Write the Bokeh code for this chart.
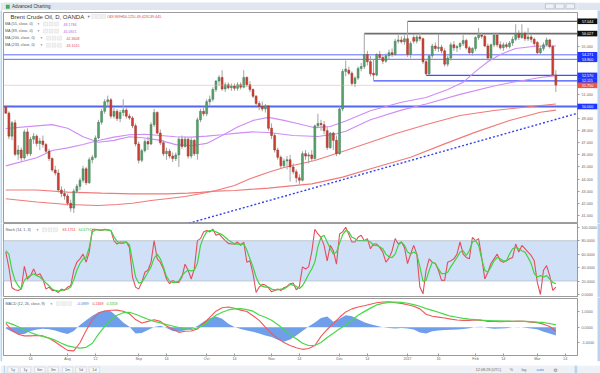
from bokeh.plotting import figure
from bokeh.layouts import column
from bokeh.models import Range1d, FixedTicker, Label, Span, BoxAnnotation, PrintfTickFormatter, ColumnDataSource
from bokeh.embed import file_html
from bokeh.resources import INLINE
from bokeh.core.properties import value

FONT = "Liberation Sans"

# ---------------- data (daily bars, index 0 = first bar on screen) ----------------
opens = [49.969,49.45,47.55,48.65,46.05,46.40,45.75,47.90,46.10,47.30,
         47.55,46.95,47.15,46.85,46.30,45.70,44.75,44.50,43.10,42.80,
         42.60,42.00,41.60,43.00,43.40,43.90,44.85,43.70,45.60,45.80,
         47.40,48.70,49.60,50.40,50.55,49.20,49.60,49.00,49.50,49.70,
         49.20,49.05,48.40,46.90,45.55,46.35,47.10,46.90,48.50,49.50,
         47.80,47.00,46.10,46.30,45.90,45.70,46.00,47.30,46.70,47.30,
         45.90,47.20,46.10,48.90,49.60,49.40,50.40,50.60,51.40,52.10,
         52.40,51.45,51.80,51.55,51.70,51.50,51.80,51.60,52.40,51.80,
         51.40,50.85,50.25,50.00,49.80,50.05,48.20,47.60,46.40,45.80,
         45.10,45.50,45.60,45.00,44.60,44.10,43.90,46.10,45.90,46.00,
         45.70,48.40,48.60,48.50,48.00,46.60,47.80,47.20,46.10,49.80,
         52.90,53.00,52.75,51.90,52.35,53.15,53.30,54.30,53.70,52.75,
         52.60,54.30,54.05,53.75,54.20,54.45,54.30,55.40,55.50,55.35,
         55.60,54.30,55.70,55.40,55.75,55.60,53.70,52.70,54.20,55.00,
         54.80,54.90,54.60,53.50,54.00,55.10,54.85,54.95,55.20,55.45,
         54.85,54.45,54.80,55.70,55.90,55.80,55.00,54.00,55.10,55.90,
         55.10,54.85,55.10,54.95,55.25,55.55,56.05,55.70,56.05,55.60,
         55.75,55.55,55.30,54.45,54.80,55.10,55.50,54.95,52.60]
highs = [50.125,49.60,48.80,48.90,46.80,46.60,48.10,48.20,47.50,47.80,
         47.70,47.40,47.60,47.00,46.50,45.80,45.10,44.80,43.40,43.20,
         42.80,42.30,43.20,43.60,44.10,45.10,45.00,45.80,46.00,47.60,
         48.90,49.80,50.60,50.90,50.70,49.90,49.80,49.70,50.60,49.90,
         49.40,49.20,48.60,47.10,46.50,47.30,47.50,48.70,49.80,49.60,
         48.10,47.20,46.60,46.50,46.20,46.20,47.50,47.60,47.50,47.40,
         47.40,47.30,49.10,49.80,49.90,50.60,50.90,51.60,52.20,52.60,
         53.00,52.00,52.00,51.90,51.90,52.00,52.00,53.00,52.50,52.10,
         51.50,50.95,50.45,50.40,50.20,50.10,48.60,47.80,46.60,45.95,
         45.70,45.90,46.00,45.30,44.80,44.40,46.30,46.40,46.20,46.40,
         48.50,49.40,48.90,48.80,48.30,47.90,47.90,47.60,50.00,53.10,
         53.80,53.30,52.90,52.50,53.30,53.60,56.03,54.60,54.20,53.90,
         54.40,54.60,54.30,54.40,54.70,54.80,55.60,55.90,55.80,55.90,
         57.044,55.40,55.90,55.90,56.10,55.70,53.90,54.30,55.20,55.30,
         56.00,55.10,54.80,54.20,55.30,55.40,55.10,55.30,55.90,55.60,
         55.00,54.90,55.80,56.50,56.10,55.90,55.20,55.20,56.10,56.10,
         55.40,55.30,55.30,55.40,55.80,56.80,56.30,56.80,56.20,56.50,
         55.90,55.70,55.40,55.00,55.30,55.70,55.60,55.10,53.00]
lows = [49.423,47.30,47.20,45.90,45.60,45.50,45.60,45.90,45.90,46.90,
        46.70,46.40,46.60,46.10,45.50,44.60,44.30,42.90,42.50,42.30,
        41.80,41.30,41.20,42.80,43.10,43.70,43.50,43.60,45.30,45.70,
        47.30,48.50,49.40,50.00,49.00,49.00,48.80,48.70,49.20,49.00,
        48.90,48.20,46.70,45.30,45.40,46.20,46.40,46.80,48.30,47.70,
        46.80,45.90,45.60,45.70,45.40,45.50,45.00,46.50,46.60,45.70,
        45.70,45.90,45.60,48.70,49.20,49.20,50.10,50.40,51.20,51.70,
        51.30,51.20,51.40,51.30,51.30,51.30,51.40,51.50,51.60,51.20,
        50.70,50.10,49.70,49.60,49.50,48.00,47.30,46.20,45.60,44.90,
        44.90,44.80,43.80,44.40,43.70,43.55,43.80,45.60,45.30,45.50,
        45.60,48.20,48.00,47.70,46.40,46.50,46.40,45.90,46.00,49.60,
        52.50,52.60,51.70,51.60,52.20,52.90,53.10,53.40,52.50,52.115,
        52.50,53.90,53.50,53.60,53.90,54.10,54.20,55.20,55.20,55.10,
        54.10,54.00,55.20,55.20,55.40,53.50,52.57,52.60,54.00,54.60,
        54.50,54.40,53.30,53.30,53.80,54.60,54.50,54.70,55.00,54.70,
        54.30,54.20,54.60,55.50,55.60,54.90,53.80,53.90,54.90,54.90,
        54.70,54.60,54.80,54.80,55.00,55.40,55.50,55.60,55.40,55.40,
        55.30,55.00,54.30,54.30,54.60,55.00,54.80,52.50,51.20]
closes = [49.445,47.55,48.65,46.05,46.40,45.75,47.90,46.10,47.30,47.55,
          46.95,47.15,46.85,46.30,45.70,44.75,44.50,43.10,42.80,42.60,
          42.00,41.60,43.00,43.40,43.90,44.85,43.70,45.60,45.80,47.40,
          48.70,49.60,50.40,50.55,49.20,49.60,49.00,49.50,49.70,49.20,
          49.05,48.40,46.90,45.55,46.35,47.10,46.90,48.50,49.50,47.80,
          47.00,46.10,46.30,45.90,45.70,46.00,47.30,46.70,47.30,45.90,
          47.20,46.10,48.90,49.60,49.40,50.40,50.60,51.40,52.10,52.40,
          51.45,51.80,51.55,51.70,51.50,51.80,51.60,52.40,51.80,51.40,
          50.85,50.25,50.00,49.80,50.05,48.20,47.60,46.40,45.80,45.10,
          45.50,45.60,45.00,44.60,44.10,43.90,46.10,45.90,46.00,45.70,
          48.40,48.60,48.50,48.00,46.60,47.80,47.20,46.10,49.80,52.90,
          53.10,52.75,51.90,52.35,53.15,53.30,54.30,53.70,52.70,52.60,
          54.30,54.05,53.75,54.20,54.45,54.30,55.40,55.50,55.35,55.60,
          54.30,55.20,55.40,55.75,55.60,53.70,52.70,54.20,55.00,54.80,
          54.90,54.60,53.50,54.00,55.10,54.85,54.95,55.20,55.45,54.85,
          54.45,54.80,55.70,55.90,55.80,55.00,54.00,55.10,55.90,55.10,
          54.85,55.10,54.95,55.25,55.55,56.05,55.70,56.05,55.60,55.75,
          55.55,55.20,54.45,54.80,55.10,55.50,54.95,52.60,51.75]

# moving averages read at sample bars
ma55_idx = [0,10,15,20,25,30,35,40,45,50,55,60,65,70,75,80,85,90,95,100,105,110,118,128,136,143,148,152,156,160,165,172,178]
ma55_val = [48.18,48.40,48.50,48.20,47.50,47.05,47.20,47.50,47.40,47.20,46.85,46.75,46.95,47.60,48.30,48.85,49.10,48.85,48.55,48.25,48.35,48.80,49.65,50.35,50.75,51.40,52.00,52.90,53.70,54.30,54.80,55.00,55.00]
ma89_idx = [0,10,15,20,25,30,35,40,45,50,55,60,65,70,75,80,85,93,101,107,110,118,128,136,147,158,164,173,178]
ma89_val = [45.09,45.76,46.36,46.58,46.86,47.19,47.47,47.66,47.70,47.60,47.50,47.47,47.55,47.66,47.80,47.90,47.85,47.60,47.52,47.74,47.95,48.90,49.70,50.20,51.00,51.70,52.00,52.40,52.55]
ma200_idx = [0,10,20,30,36,41,47,52,58,63,68,74,79,85,90,100,110,126,137,147,158,173,178]
ma200_val = [42.37,42.10,41.90,41.82,41.90,42.00,42.23,42.37,42.56,42.78,43.06,43.47,44.02,44.57,44.95,45.54,46.36,47.74,48.57,49.26,49.67,50.08,50.20]
ma233_idx = [0,10,20,31,41,52,59,63,68,74,79,85,99,109,120,131,142,152,163,173,178]
ma233_val = [43.10,43.10,42.92,42.84,42.78,42.78,42.84,42.90,43.00,43.06,43.15,43.25,43.60,44.16,44.99,45.81,46.91,47.88,48.84,49.53,49.70]

# drawn levels
hl_level = [57.044, 56.027, 54.271, 53.900, 52.570, 52.115, 50.000]
hl_start = [130, 116, -1, -1, 136, 119, -1]
hl_color = ["#3a3a3a", "#6e6e6e", "#5d6bff", "#5d6bff", "#3f50ff", "#3f50ff", "#5566ee"]
hl_width = [1, 1.6, 1, 1, 1.4, 1.4, 2]
last_price = 51.750
trend_idx = [58, 185]
trend_val = [40.26, 49.44]

tag_level = [57.044, 56.027, 54.271, 53.900, 52.570, 52.115, 51.750, 50.000]
tag_color = ["#111111", "#111111", "#2035ff", "#2035ff", "#2035ff", "#2035ff", "#e8574a", "#2035ff"]
price_ticks = [41, 42, 43, 44, 45, 46, 47, 48, 49, 51, 55]

# stochastic (14,1,3) per bar
stoch_k = [63,40,10,7,6,8,42,23,28,38,
           28,31,23,8,11,6,6,3,8,6,
           11,13,36,48,53,60,48,63,97,97,
           96,95,97,96,95,80,75,78,78,78,
           70,26,11,8,18,33,36,48,80,53,
           48,38,23,16,21,18,18,26,45,36,
           23,38,80,83,93,95,93,97,88,90,
           85,80,76,75,75,78,73,78,48,50,
           31,3,11,15,14,10,4,6,8,6,
           10,12,16,17,7,12,41,38,41,63,
           97,90,85,73,50,73,65,45,90,93,
           100,89,78,78,85,88,80,83,68,75,
           75,70,63,48,54,65,83,75,78,70,
           46,60,73,60,11,1,36,53,48,46,
           36,21,21,48,50,53,60,78,60,55,
           53,85,80,83,55,23,33,46,53,60,
           50,48,50,53,55,75,63,73,68,63,
           58,50,18,0,36,43,28,6,11]
stoch_d = [65,60,36,21,13,8,21,26,28,31,
           28,26,22,17,13,8,6,5,6,7,
           8,11,22,36,46,53,55,70,93,96,
           96,96,96,96,95,86,79,76,76,78,
           74,50,26,17,18,25,33,41,54,60,
           53,41,27,20,18,18,20,28,33,36,
           35,36,46,73,85,93,95,95,93,91,
           89,85,81,78,75,75,75,75,66,53,
           41,26,16,12,11,11,8,7,7,8,
           8,11,15,14,12,9,13,21,30,38,
           48,71,85,88,78,68,60,63,76,89,
           95,93,85,83,80,80,80,80,78,73,
           73,71,68,60,56,55,60,73,78,73,
           63,60,63,60,41,20,21,36,48,46,
           38,31,31,33,41,48,55,63,65,58,
           65,78,80,73,53,36,33,41,50,55,
           53,50,50,60,68,70,68,65,63,55,
           46,31,26,28,26,28,23,18,16]

# MACD (12,26,9) read every second bar
macd_idx = list(range(0, 179, 2))
macd_line = [0.25,-0.20,-0.46,-0.57,-0.57,-0.54,-0.57,-0.72,-0.97,-1.25,
             -1.52,-1.55,-1.02,-0.21,0.49,0.93,1.06,1.11,1.12,1.05,
             0.88,0.50,0.27,0.38,0.49,0.38,0.08,-0.12,-0.34,-0.27,
             -0.25,-0.12,0.25,0.65,1.05,1.27,1.32,1.24,1.12,1.03,
             0.75,0.45,0.00,-0.40,-0.75,-1.00,-1.20,-1.35,-1.45,-1.40,
             -1.20,-0.60,-0.15,0.25,0.65,1.00,1.20,1.32,1.40,1.50,
             1.60,1.65,1.66,1.60,1.56,1.47,1.37,1.20,0.85,0.72,
             0.66,0.60,0.53,0.47,0.45,0.45,0.48,0.45,0.38,0.38,
             0.36,0.38,0.38,0.40,0.38,0.32,0.30,0.20,0.05,-0.25]
macd_signal = [0.34,0.20,0.03,-0.17,-0.35,-0.50,-0.60,-0.72,-0.85,-1.05,
               -1.22,-1.31,-1.37,-1.32,-1.05,-0.45,0.06,0.50,0.78,0.95,
               0.98,0.85,0.68,0.52,0.38,0.28,0.17,0.08,-0.02,-0.10,
               -0.14,-0.05,0.15,0.47,0.78,0.98,1.13,1.20,1.22,1.15,
               1.05,0.80,0.65,0.45,0.18,-0.15,-0.50,-0.75,-1.05,-1.20,
               -1.20,-1.00,-0.68,-0.40,-0.10,0.15,0.45,0.78,1.02,1.25,
               1.46,1.56,1.62,1.65,1.62,1.57,1.48,1.37,1.22,1.10,
               0.98,0.84,0.72,0.65,0.58,0.53,0.49,0.46,0.44,0.42,
               0.41,0.40,0.39,0.38,0.38,0.36,0.33,0.31,0.24,0.15]
macd_hist = [-0.09,-0.30,-0.46,-0.45,-0.25,-0.15,-0.10,-0.14,-0.22,-0.34,
             -0.44,-0.25,0.14,0.45,0.75,0.98,1.10,1.05,0.70,0.30,
             0.03,-0.42,-0.38,-0.18,0.02,0.10,-0.05,-0.25,-0.30,-0.20,
             -0.12,0.08,0.36,0.58,0.70,0.56,0.22,0.02,-0.12,-0.22,
             -0.30,-0.42,-0.54,-0.65,-0.82,-0.96,-0.80,-0.55,-0.25,0.05,
             0.30,0.60,0.70,0.35,0.55,0.78,0.72,0.52,0.32,0.20,
             0.10,0.00,-0.06,-0.09,-0.05,-0.08,-0.15,-0.34,-0.42,-0.27,
             -0.22,-0.19,-0.16,-0.15,-0.11,-0.07,0.02,0.03,-0.05,-0.10,
             -0.08,-0.07,0.00,0.02,-0.03,-0.09,-0.14,-0.30,-0.42,-0.55]

tick_idx = [8, 20, 29, 43, 52, 65, 74, 86, 95, 108, 117, 130, 140, 152, 161, 172, 181]
tick_text = ["14", "Aug", "12", "Sep", "14", "Oct", "14", "Nov", "14", "Dec", "14",
             "2017", "16", "Feb", "14", "Mar", "14"]

# ---------------- geometry helpers (window pixels -> data) ----------------
XL, XR = -0.744, 185.0
FL, FW = 3, 574
EDGE = "#b6d5ee"


def fx(px):
    return XL + (px - FL) * (XR - XL) / FW


def maker(top_px, bot_px, ymax, ymin):
    def f(py):
        return ymax - (py - top_px) * (ymax - ymin) / (bot_px - top_px)
    return f


P_YMIN, P_YMAX = 40.41, 57.77
fyp = maker(12, 222, P_YMAX, P_YMIN)
S_YMIN, S_YMAX = -4.46, 105.5
fys = maker(223, 297, S_YMAX, S_YMIN)
M_YMIN, M_YMAX = -1.854, 1.88
fym = maker(298, 357, M_YMAX, M_YMIN)

AX_FS = "3.7px"


def style_axis(ax, ticks, fmt):
    ax.ticker = FixedTicker(ticks=ticks)
    ax.formatter = PrintfTickFormatter(format=fmt)
    ax.major_label_text_font_size = AX_FS
    ax.major_label_text_color = "#666666"
    ax.major_label_text_font = FONT
    ax.axis_line_color = "#9a9a9a"
    ax.major_tick_line_color = "#9a9a9a"
    ax.major_tick_out = 2
    ax.major_tick_in = 0
    ax.minor_tick_line_color = None
    ax.major_label_standoff = 2


def lab(fig, px, y, text, size="3.7px", color="#555555", font=FONT, align="left"):
    fig.add_layout(Label(x=fx(px), y=y, text=text, text_font_size=size, text_color=color,
                         text_font=font, text_baseline="middle", text_align=align))


def squares(fig, lefts, ytop, ybot):
    for l in lefts:
        fig.add_layout(BoxAnnotation(left=fx(l), right=fx(l + 4), top=ytop, bottom=ybot,
                                     fill_color="#f2f2f2", fill_alpha=1, line_color="#b9b9b9",
                                     line_width=0.6))


def edges(fig, fy, top_px, bot_px):
    # window frame strips at the left and right edge (zero-area sliver keeps them in view)
    y0, y1 = fy(bot_px), fy(top_px)
    fig.patch(x=[fx(0), fx(1.6), XL + 0.05, fx(1.6), fx(1.6), fx(0)],
              y=[y0, y0, y0, y0, y1, y1], fill_color=EDGE, line_color=None, level="overlay")
    fig.patch(x=[fx(597), XR - 0.05, fx(597), fx(600), fx(600), fx(597)],
              y=[y0, y0, y0, y0, y1, y1], fill_color=EDGE, line_color=None, level="overlay")


def panel(h, yr, tb, bb, xaxis=None):
    f = figure(width=600, height=h, x_range=xr, y_range=Range1d(*yr), output_backend="svg",
               toolbar_location=None, x_axis_location=xaxis, y_axis_location="right",
               min_border_left=3, min_border_right=23, min_border_top=tb, min_border_bottom=bb)
    f.grid.visible = False
    f.outline_line_color = "#9c9c9c"
    f.background_fill_color = "white"
    f.border_fill_color = "white"
    return f


xr = Range1d(XL, XR)

# ---------------- title bar ----------------
t = figure(width=600, height=10, x_range=Range1d(0, 600), y_range=Range1d(10, 0), output_backend="svg",
           toolbar_location=None, x_axis_location=None, y_axis_location=None,
           min_border_left=0, min_border_right=0, min_border_top=0, min_border_bottom=0)
t.grid.visible = False
t.outline_line_color = None
t.background_fill_color = "#dfe6ef"
t.border_fill_color = "#dfe6ef"
t.rect(x=[4.5], y=[4.2], width=4, height=4, fill_color="#4aa84e", line_color=None)
t.text(x=[9], y=[4.2], text=["Advanced Charting"], text_font_size="4.5px", text_baseline="middle",
       text_color="#333333", text_font=value(FONT))
t.rect(x=[571, 581.5, 592.5], y=[3.8, 3.8, 3.8], width=9, height=5, fill_color="#eef2f7",
       line_color="#a6b1bf", line_width=0.6)
t.rect(x=[0.8, 598.5], y=[9, 9], width=[1.6, 3], height=2, fill_color=EDGE, line_color=None)

# ---------------- price panel ----------------
p = panel(213, (P_YMIN, P_YMAX), 2, 1)
style_axis(p.yaxis[0], price_ticks, "%.3f")

up = "#58a06d"
dn = "#cc4234"
src = ColumnDataSource(dict(
    x=list(range(len(closes))), h=highs, l=lows,
    top=[max(o, c) for o, c in zip(opens, closes)],
    bot=[min(o, c) for o, c in zip(opens, closes)],
    col=[up if c >= o else dn for o, c in zip(opens, closes)],
    edge=["#3f7d52" if c >= o else "#9f2e24" for o, c in zip(opens, closes)]))

for lvl, st, colr, w in zip(hl_level, hl_start, hl_color, hl_width):
    p.segment(x0=[st], y0=[lvl], x1=[XR + 1], y1=[lvl], line_color=colr, line_width=w)
p.add_layout(Span(location=last_price, dimension="width", line_color="#f3a3a3", line_dash="1 1",
                  line_width=1))

p.line(ma233_idx, ma233_val, line_color="#f07a7a", line_width=1.1)
p.line(ma200_idx, ma200_val, line_color="#f07a7a", line_width=1.1)
p.line(ma89_idx, ma89_val, line_color="#cf8cf7", line_width=1.1)
p.line(ma55_idx, ma55_val, line_color="#cf8cf7", line_width=1.1)
p.line(trend_idx, trend_val, line_color="#3344ee", line_dash="2 2", line_width=1.4)

p.segment(x0="x", y0="h", x1="x", y1="l", source=src, line_color="#a3a3a3", line_width=1)
p.vbar(x="x", width=0.62, top="top", bottom="bot", source=src, fill_color="col",
       line_color="edge", line_width=0.5)

# price tags on the right scale (drawn at overlay level so they sit on the axis strip)
half = 2.8 * (P_YMAX - P_YMIN) / 210
ntag = len(tag_level)
p.quad(left=[XR - 0.03] * ntag, right=[fx(597)] * ntag,
       top=[v + half for v in tag_level], bottom=[v - half for v in tag_level],
       fill_color=tag_color, line_color=None, level="overlay")
p.text(x=[XR - 0.03] * ntag, y=tag_level, text=["%.3f" % v for v in tag_level], x_offset=4.5,
       text_baseline="middle", text_align="left", text_font_size=AX_FS, text_color="white",
       text_font=value(FONT), level="overlay")
edges(p, fyp, 10, 223)

# header
lab(p, 10, fyp(16), "Brent Crude Oil, D, OANDA", size="6px", color="#333333")
lab(p, 87, fyp(16), "\u25be", size="4.5px", color="#777777", font="DejaVu Sans")
squares(p, [91, 96, 101], fyp(14), fyp(18))
ohlc_names = ["O", "H", "L", "C"]
ohlc_vals = ["49.969", "50.125", "49.423", "49.445"]
for k, (nm, vv) in enumerate(zip(ohlc_names, ohlc_vals)):
    lab(p, 106.5 + 13.6 * k, fyp(16), nm, size="3.6px", color="#777777")
    lab(p, 109 + 13.6 * k, fyp(16), vv, size="3.6px", color="#e53935")

ma_names = ["MA (55, close, 0)", "MA (89, close, 0)", "MA (200, close, 0)", "MA (233, close, 0)"]
ma_vals = ["48.1786", "45.0921", "42.3608", "43.1015"]
ma_cols = ["#b35ce3", "#b35ce3", "#e0474c", "#e0474c"]
for k, (nm, vv, cc) in enumerate(zip(ma_names, ma_vals, ma_cols)):
    yy = fyp(23.5 + 7.1 * k)
    shift = 0 if k < 2 else 3
    lab(p, 4.5, yy, nm, size="3.7px")
    lab(p, 37 + shift, yy, "\u25be", size="3.5px", color="#888888", font="DejaVu Sans")
    squares(p, [43 + shift, 48.5 + shift, 54 + shift], fyp(21.5 + 7.1 * k), fyp(25.5 + 7.1 * k))
    lab(p, 63 + shift, yy, vv, size="3.6px", color=cc)

# ---------------- stochastic panel ----------------
s = panel(74, (S_YMIN, S_YMAX), 0, 0)
style_axis(s.yaxis[0], [0, 20, 40, 60, 80, 100], "%.4f")
s.add_layout(BoxAnnotation(bottom=20, top=80, fill_color="#d0e0f7", fill_alpha=1, line_color=None,
                           level="underlay"))
s.add_layout(Span(location=20, dimension="width", line_color="#9aa3ad", line_dash="1 1", line_width=1))
s.add_layout(Span(location=80, dimension="width", line_color="#9aa3ad", line_dash="1 1", line_width=1))
s.line(list(range(len(stoch_k))), stoch_k, line_color="#e64d5d", line_width=1.1)
s.line(list(range(len(stoch_d))), stoch_d, line_color="#3fd43f", line_width=1.2)
lab(s, 5, fys(229.3), "Stoch (14, 1, 3)")
lab(s, 36, fys(229.3), "\u25be", size="3.5px", color="#888888", font="DejaVu Sans")
squares(s, [42, 47.5, 53], fys(227.3), fys(231.3))
lab(s, 62, fys(229.3), "63.1751", size="3.6px", color="#e53935")
lab(s, 78, fys(229.3), "64.6791", size="3.6px", color="#3cbf3c")
edges(s, fys, 223, 297)

# ---------------- MACD panel ----------------
m = panel(66, (M_YMIN, M_YMAX), 1, 6, xaxis="below")
style_axis(m.yaxis[0], [-1, 0, 1], "%.4f")
m.varea(x=macd_idx, y1=[0] * len(macd_idx), y2=macd_hist, fill_color="#6f9eea", fill_alpha=1)
m.line(macd_idx, macd_line, line_color="#f0595c", line_width=1.1)
m.line(macd_idx, macd_signal, line_color="#47d947", line_width=1.2)
xa = m.xaxis[0]
xa.ticker = FixedTicker(ticks=tick_idx)
xa.major_label_overrides = {i: tx for i, tx in zip(tick_idx, tick_text)}
xa.major_label_text_font_size = AX_FS
xa.major_label_text_color = "#666666"
xa.major_label_text_font = FONT
xa.axis_line_color = "#9a9a9a"
xa.major_tick_line_color = "#9a9a9a"
xa.major_tick_out = 1
xa.major_tick_in = 2
xa.minor_tick_line_color = None
xa.major_label_standoff = 0
lab(m, 5, fym(303.3), "MACD (12, 26, close, 9)")
lab(m, 50, fym(303.3), "\u25be", size="3.5px", color="#888888", font="DejaVu Sans")
squares(m, [56, 61.5, 67], fym(301.3), fym(305.3))
lab(m, 76, fym(303.3), "-0.0889", size="3.6px", color="#4f83e6")
lab(m, 92, fym(303.3), "0.2469", size="3.6px", color="#e53935")
lab(m, 106, fym(303.3), "0.3358", size="3.6px", color="#3cbf3c")
edges(m, fym, 297, 363)

# ---------------- bottom bar ----------------
b = figure(width=600, height=10, x_range=Range1d(0, 600), y_range=Range1d(10, 0), output_backend="svg",
           toolbar_location=None, x_axis_location=None, y_axis_location=None,
           min_border_left=0, min_border_right=0, min_border_top=0, min_border_bottom=0)
b.grid.visible = False
b.outline_line_color = None
b.background_fill_color = "#eef1f5"
b.border_fill_color = "#eef1f5"
btn_text = ["5y", "1y", "6m", "3m", "1m", "5d", "1d"]
btn_x = [10, 23, 38, 52, 67, 81, 95]
b.rect(x=btn_x, y=[4.5] * 7, width=11, height=6, fill_color="#f7f8fa", line_color="#c9d1db",
       line_width=0.6)
b.text(x=btn_x, y=[4.5] * 7, text=btn_text, text_font_size="3.7px", text_align="center",
       text_baseline="middle", text_color="#666666", text_font=value(FONT))
b.text(x=[507, 531, 544, 561], y=[4.5] * 4, text=["12:08:28 (UTC)", "%", "log", "auto"],
       text_font_size="3.7px", text_align="center", text_baseline="middle",
       text_color=["#666666", "#666666", "#666666", "#3d7be0"], text_font=value(FONT))
b.text(x=[577], y=[4.5], text=["\u2699"], text_font_size="5px", text_align="center",
       text_baseline="middle", text_color="#777777", text_font=value("DejaVu Sans"))
b.rect(x=[0.8, 598.5], y=[5, 5], width=[1.6, 3], height=10, fill_color=EDGE, line_color=None)

layout = column(t, p, s, m, b, spacing=0)
open("out.html", "w").write(file_html(layout, INLINE))
